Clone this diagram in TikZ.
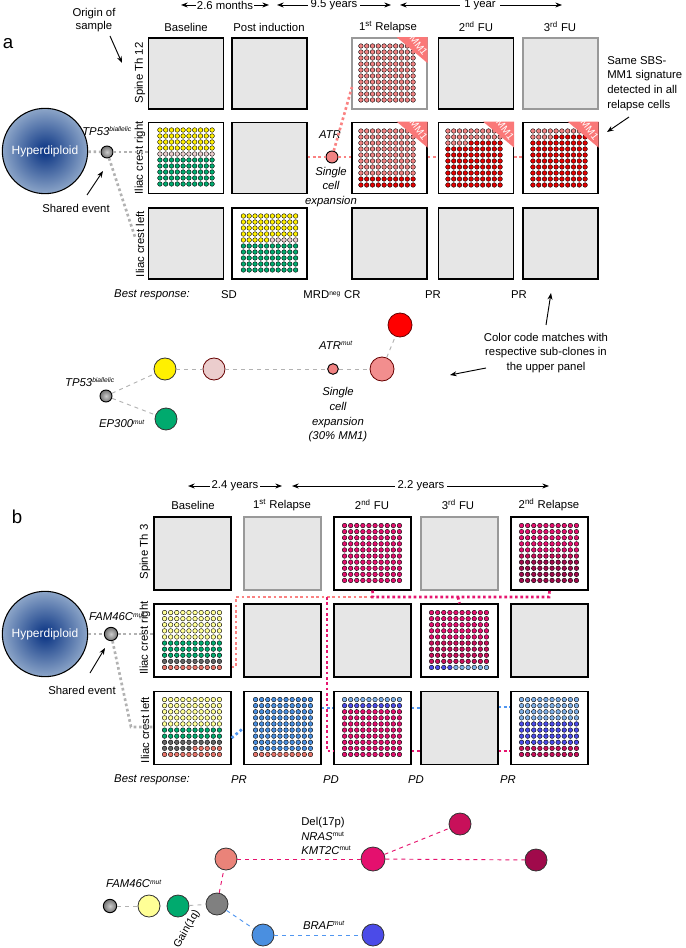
\documentclass[tikz,border=0pt]{standalone}
\usepackage{fontspec}
\setmainfont{Liberation Sans}
\usetikzlibrary{arrows.meta,calc}
\definecolor{boxg}{RGB}{230,230,230}
\definecolor{cY}{RGB}{255,240,0}
\definecolor{cP}{RGB}{235,205,205}
\definecolor{cG}{RGB}{0,170,110}
\definecolor{cS}{RGB}{240,130,130}
\definecolor{cR}{RGB}{228,0,0}
\definecolor{mmred}{RGB}{250,120,120}
\definecolor{cLY}{RGB}{255,255,150}
\definecolor{cDG}{RGB}{100,100,100}
\definecolor{cBS}{RGB}{232,117,106}
\definecolor{cBL}{RGB}{74,143,224}
\definecolor{cLB}{RGB}{127,176,232}
\definecolor{cV}{RGB}{75,75,232}
\definecolor{cM}{RGB}{228,16,110}
\definecolor{cMC}{RGB}{200,16,90}
\definecolor{cCR}{RGB}{160,10,75}
\definecolor{lnred}{RGB}{250,130,130}
\definecolor{lnmag}{RGB}{230,20,110}
\definecolor{lnblue}{RGB}{80,150,240}
\newcommand\dgrid[5]{%
  \foreach \ca/\n/\cb [count=\r] in {#5} {
    \foreach \k in {1,...,10} {
      \ifnum\k>\n\relax\def\cc{\cb}\else\def\cc{\ca}\fi
      \filldraw[fill=\cc,draw=black,line width=0.3pt] ({#1+(\k-5.5)*#3},{#2+(\r-5.5)*#4}) circle (2.3);
    }}}
\newcommand\mmone[1]{%
  \fill[mmred] (#1.north east) -- ++(-31,0) -- ++(31,26) -- cycle;
  \node[rotate=-52,text=white,font=\fontsize{7.5}{8}\selectfont,inner sep=0] at ($(#1.north east)+(-9,8)$) {MM1};}
\tikzset{
  every node/.style={font=\fontsize{8.5}{10}\selectfont},
  boxa/.style={draw,line width=1.1pt,fill=boxg,minimum width=56pt,minimum height=53.5pt,inner sep=0},
  boxb/.style={draw,line width=1.1pt,fill=boxg,minimum width=57.5pt,minimum height=54.5pt,inner sep=0},
  gb/.style={draw=gray!80},
  wf/.style={fill=white},
  hyper/.style={circle,draw,line width=0.8pt,minimum size=64pt,inner sep=0,shading=radial,inner color={rgb,255:red,8;green,50;blue,130},outer color={rgb,255:red,140;green,165;blue,200},text=white,font=\fontsize{9}{10}\selectfont},
  gdot/.style={line width=2pt,dotted,gray!60},
  rdot/.style={line width=2pt,dotted,lnred},
  mdot/.style={line width=2pt,dotted,lnmag},
  bdot/.style={line width=2pt,dotted,lnblue},
  arr/.style={-{Stealth[length=5pt]},line width=0.7pt},
  tl/.style={{Stealth[length=5pt]}-{Stealth[length=5pt]},line width=0.7pt},
  cl/.style={circle,draw=black!80,line width=0.6pt,inner sep=0,minimum size=16.5pt},
  sn/.style={circle,draw=black,line width=0.7pt,inner sep=0,minimum size=9pt,shading=radial,inner color=gray!40,outer color=gray!90!black},
  gdash/.style={dashed,gray!60,line width=0.7pt},
  mdash/.style={dashed,lnmag,line width=0.7pt},
  bdash/.style={dashed,lnblue,line width=0.7pt},
  it/.style={font=\fontsize{8.5}{10}\selectfont\itshape},
}
\begin{document}
\begin{tikzpicture}[x=0.75pt,y=-0.75pt]
\useasboundingbox (0,0) rectangle (685,948);
% ================= panel a =================
\node[font=\fontsize{14}{14}\selectfont] (la) at (8,44) {a};
\node[align=center] (orig) at (94,20) {Origin of\\sample};
\coordinate (origA) at (122,63);
\draw[arr] (110,36) -- (origA);
\coordinate (t1) at (181,5); \coordinate (t2) at (269,5);
\coordinate (t3) at (277,5); \coordinate (t4) at (391,5);
\coordinate (t5) at (400,5); \coordinate (t6) at (562,5);
\draw[tl] (t1) -- (t2); \node[fill=white,inner sep=1pt] (tla) at (225,5) {2.6 months};
\draw[tl] (t3) -- (t4); \node[fill=white,inner sep=2pt] (tlb) at (334,5) {9.5 years};
\draw[tl] (t5) -- (t6); \node[fill=white,inner sep=3pt] (tlc) at (480,5) {1 year};
\node (ha1) at (186,27) {Baseline};
\node (ha2) at (269,27) {Post induction};
\node (ha3) at (388,27) {1\textsuperscript{st} Relapse};
\node (ha4) at (476,27) {2\textsuperscript{nd} FU};
\node (ha5) at (560,27) {3\textsuperscript{rd} FU};
\node[rotate=90] (ra1) at (140,73) {Spine Th 12};
\node[rotate=90] (ra2) at (140,158) {Iliac crest right};
\node[rotate=90] (ra3) at (140,244) {Iliac crest left};
\node[boxa] (a11) at (186,73.5) {};
\node[boxa] (a12) at (269.5,73.5) {};
\node[boxa,wf,gb] (a13) at (389.5,73.5) {};
\node[boxa] (a14) at (476,73.5) {};
\node[boxa,gb] (a15) at (560.5,73.5) {};
\node[boxa,wf] (a21) at (186,158) {};
\node[boxa] (a22) at (269.5,158) {};
\node[boxa,wf] (a23) at (389.5,158) {};
\node[boxa,wf] (a24) at (476,158) {};
\node[boxa,wf] (a25) at (560.5,158) {};
\node[boxa] (a31) at (186,243.5) {};
\node[boxa,wf] (a32) at (269.5,243.5) {};
\node[boxa] (a33) at (389.5,243.5) {};
\node[boxa] (a34) at (476,243.5) {};
\node[boxa] (a35) at (560.5,243.5) {};
\dgrid{186}{157}{5.8}{6.0}{cY/10/cY,cY/10/cY,cY/10/cY,cY/10/cY,cP/10/cP,cG/10/cG,cG/10/cG,cG/10/cG,cG/10/cG,cG/10/cG}
\dgrid{269.5}{243}{5.8}{6.0}{cY/10/cY,cY/10/cY,cY/10/cY,cY/10/cY,cY/5/cP,cG/10/cG,cG/10/cG,cG/10/cG,cG/10/cG,cG/10/cG}
\dgrid{387}{73}{5.8}{6.0}{cS/10/cS,cS/10/cS,cS/10/cS,cS/10/cS,cS/10/cS,cS/10/cS,cS/10/cS,cS/10/cS,cS/10/cS,cS/10/cS}
\dgrid{387}{158}{5.8}{6.0}{cS/10/cS,cS/10/cS,cS/10/cS,cS/10/cS,cS/10/cS,cS/10/cS,cS/10/cS,cS/10/cS,cR/10/cR,cR/10/cR}
\dgrid{474}{158}{5.8}{6.0}{cS/10/cS,cS/10/cS,cS/4/cR,cR/10/cR,cR/10/cR,cR/10/cR,cR/10/cR,cR/10/cR,cR/10/cR,cR/10/cR}
\dgrid{559}{158}{5.8}{6.0}{cS/10/cS,cS/4/cR,cR/10/cR,cR/10/cR,cR/10/cR,cR/10/cR,cR/10/cR,cR/10/cR,cR/10/cR,cR/10/cR}
\mmone{a13}\mmone{a23}\mmone{a24}\mmone{a25}
\node[hyper] (hypa) at (45,151) {Hyperdiploid};
\node[sn] (tp53) at (107,152) {};
\node[it,anchor=west,inner sep=0] (tp53l) at (82,131) {TP53\textsuperscript{\fontsize{5}{5}\selectfont biallelic}};
\coordinate (ca1) at (135,237);
\draw[gdot] (hypa) -- (tp53);
\draw[gdot] (tp53) -- (a21.west|-tp53);
\draw[gdot] (tp53) -- (ca1);
\node (sha) at (76,208) {Shared event};
\draw[arr] (87,195) -- (103,171);
\node[circle,draw=black,line width=0.7pt,fill=cS,minimum size=9pt,inner sep=0] (atr) at (332,157) {};
\node[it] (atrl) at (330,135) {ATR};
\node[it,align=center] (sce) at (331,187) {Single\\[1pt]cell\\[1pt]expansion};
\draw[rdot] (a22.east|-atr) -- (atr);
\draw[rdot] (atr) -- (a23.west|-atr);
\draw[rdot] (atr) -- (352,87);
\draw[rdot] (a23.east|-atr) -- (a24.west|-atr);
\draw[rdot] (a24.east|-atr) -- (a25.west|-atr);
\node[align=left,anchor=north west,inner sep=0] (sbs) at (607,56) {Same SBS-\\[1pt]MM1 signature\\[1pt]detected in all\\[1pt]relapse cells};
\draw[arr] (629,117) -- (607,132);
\node[it] (bra) at (152,295) {Best response:};
\node (bra1) at (229,295) {SD};
\node (bra2) at (332,295) {MRD\textsuperscript{\fontsize{5}{5}\selectfont neg} CR};
\node (bra3) at (433,295) {PR};
\node (bra4) at (519,295) {PR};
\node[sn] (ta0) at (106,396) {};
\node[cl,fill=cY] (ta1) at (165,369) {};
\node[cl,fill=cP,draw=black!60!red] (ta2) at (214,369) {};
\node[circle,draw=black,line width=0.7pt,fill=cS,minimum size=8pt,inner sep=0] (ta3) at (333,369) {};
\node[cl,fill=cS!90!white,draw=black!60!red,minimum size=18pt] (ta4) at (382,369) {};
\node[cl,fill=red,draw=black!60!red,minimum size=18pt] (ta5) at (400,325) {};
\node[cl,fill=cG] (ta6) at (166,419) {};
\draw[gdash] (ta0) -- (ta1); \draw[gdash] (ta0) -- (ta6);
\draw[gdash] (ta1) -- (ta2); \draw[gdash] (ta2) -- (ta3);
\draw[gdash] (ta3) -- (ta4); \draw[gdash] (ta4) -- (ta5);
\node[it] (ta0l) at (90,382) {TP53\textsuperscript{\fontsize{5}{5}\selectfont biallelic}};
\node[it] (ta6l) at (122,424) {EP300\textsuperscript{\fontsize{5}{5}\selectfont mut}};
\node[it] (ta3l) at (336,345) {ATR\textsuperscript{\fontsize{5}{5}\selectfont mut}};
\node[it,align=center] (ta3s) at (338,415) {Single\\[1pt]cell\\[1pt]expansion\\[1pt](30\% MM1)};
\node[align=center] (ccm) at (546,353) {Color code matches with\\[1pt]respective sub-clones in\\[1pt]the upper panel};
\draw[arr] (546,325) -- (551,293);
\draw[arr] (486,368) -- (450,375);
% ================= panel b =================
\node[font=\fontsize{14}{14}\selectfont] (lb) at (17,517) {b};
\coordinate (u1) at (188,486); \coordinate (u2) at (282,486);
\coordinate (u3) at (292,486); \coordinate (u4) at (549,486);
\draw[tl] (u1) -- (u2); \node[fill=white,inner sep=1pt] (tld) at (235,486) {2.4 years};
\draw[tl] (u3) -- (u4); \node[fill=white,inner sep=2pt] (tle) at (421,486) {2.2 years};
\node (hb1) at (193,505) {Baseline};
\node (hb2) at (282,505) {1\textsuperscript{st} Relapse};
\node (hb3) at (372,505) {2\textsuperscript{nd} FU};
\node (hb4) at (458,505) {3\textsuperscript{rd} FU};
\node (hb5) at (549,505) {2\textsuperscript{nd} Relapse};
\node[rotate=90] (rb1) at (145,552) {Spine Th 3};
\node[rotate=90] (rb2) at (145,638) {Iliac crest right};
\node[rotate=90] (rb3) at (145,730) {Iliac crest left};
\node[boxb] (b11) at (192.5,553.5) {};
\node[boxb,gb] (b12) at (282.5,553.5) {};
\node[boxb,wf] (b13) at (372.5,553.5) {};
\node[boxb,gb] (b14) at (459.5,553.5) {};
\node[boxb,wf] (b15) at (549.5,553.5) {};
\node[boxb,wf] (b21) at (192.5,640.5) {};
\node[boxb] (b22) at (282.5,640.5) {};
\node[boxb] (b23) at (372.5,640.5) {};
\node[boxb,wf] (b24) at (459.5,640.5) {};
\node[boxb] (b25) at (549.5,640.5) {};
\node[boxb,wf] (b31) at (192.5,728) {};
\node[boxb,wf] (b32) at (282.5,728) {};
\node[boxb,wf] (b33) at (372.5,728) {};
\node[boxb] (b34) at (459.5,728) {};
\node[boxb,wf] (b35) at (549.5,728) {};
\dgrid{192}{640}{6.1}{6.1}{cLY/10/cLY,cLY/10/cLY,cLY/10/cLY,cLY/10/cLY,cLY/10/cLY,cG/10/cG,cG/10/cG,cG/10/cG,cDG/10/cDG,cBS/10/cBS}
\dgrid{192}{727}{6.1}{6.1}{cLY/10/cLY,cLY/10/cLY,cLY/10/cLY,cLY/10/cLY,cLY/10/cLY,cG/10/cG,cG/10/cG,cDG/10/cDG,cDG/5/cBS,cBS/10/cBS}
\dgrid{283}{727}{6.1}{6.1}{cBL/10/cBL,cBL/10/cBL,cBL/10/cBL,cBL/10/cBL,cBL/10/cBL,cBL/10/cBL,cBL/10/cBL,cBL/10/cBL,cBL/10/cBL,cBS/10/cBS}
\dgrid{372}{553}{6.1}{6.1}{cM/10/cM,cM/10/cM,cM/10/cM,cM/10/cM,cM/10/cM,cM/10/cM,cM/10/cM,cM/10/cM,cM/10/cM,cM/10/cM}
\dgrid{372}{727}{6.1}{6.1}{cLB/10/cLB,cV/10/cV,cM/10/cM,cM/10/cM,cM/10/cM,cM/10/cM,cM/10/cM,cM/10/cM,cM/10/cM,cM/10/cM}
\dgrid{459}{640}{6.1}{6.1}{cM/10/cM,cM/10/cM,cM/10/cM,cM/10/cM,cM/10/cM,cMC/10/cMC,cMC/10/cMC,cMC/10/cMC,cMC/10/cMC,cV/4/cLB}
\dgrid{549}{553}{6.1}{6.1}{cM/10/cM,cM/10/cM,cM/10/cM,cM/10/cM,cM/10/cM,cMC/10/cMC,cCR/10/cCR,cCR/10/cCR,cCR/10/cCR,cCR/10/cCR}
\dgrid{549}{727}{6.1}{6.1}{cLB/10/cLB,cLB/10/cLB,cLB/10/cLB,cLB/10/cLB,cV/10/cV,cV/10/cV,cV/10/cV,cV/10/cV,cMC/10/cMC,cMC/10/cMC}
\node[hyper] (hypb) at (45,634) {Hyperdiploid};
\node[sn,minimum size=10pt] (fam) at (111,634) {};
\node[it,inner sep=0] (faml) at (117,617) {FAM46C\textsuperscript{\fontsize{5}{5}\selectfont mut}};
\coordinate (cb1) at (131,727);
\draw[gdot] (hypb) -- (fam);
\draw[gdot] (fam) -- (b21.west|-fam);
\draw[gdot] (fam) -- (cb1) -- (b31.west|-cb1);
\node (shb) at (82,690) {Shared event};
\draw[arr] (90,673) -- (105,648);
\coordinate (j1) at (236,597); \coordinate (j2) at (371,597);
\coordinate (j3) at (549,597); \coordinate (j4) at (327,597);
\draw[rdot] (b21.east|-667,667) -- (236,667) -- (j1) -- (j2);
\draw[mdot] (j2) -- (j3) -- (b15.south);
\draw[mdot] (b13.south) -- (373,597);
\draw[mdot] (458,597) -- (b24.north);
\draw[mdot] (j4) -- (327,751) -- (334,751);
\draw[mdot] (b33.east|-0,751) -- (b34.west|-0,751);
\draw[mdot] (b34.east|-0,751) -- (b35.west|-0,751);
\draw[bdot] (b31.east|-0,738) -- (b32.west|-0,728);
\draw[bdot] (b32.east|-0,708) -- (b33.west|-0,708);
\draw[bdot] (b33.east|-0,708) -- (b34.west|-0,708);
\draw[bdot] (b34.east|-0,707) -- (b35.west|-0,707);
\node[it] (brb) at (152,780) {Best response:};
\node[it] (brb1) at (239,780) {PR};
\node[it] (brb2) at (331,780) {PD};
\node[it] (brb3) at (416,780) {PD};
\node[it] (brb4) at (508,780) {PR};
\node[sn,minimum size=10pt] (tb0) at (110,906) {};
\node[cl,fill=cLY] (tb1) at (149,906) {};
\node[cl,fill=cG] (tb2) at (178,906) {};
\node[cl,fill=gray] (tb3) at (217,904) {};
\node[cl,fill=cBS!90!white] (tb4) at (226,859) {};
\node[cl,fill=cM,minimum size=18pt] (tb5) at (373,859) {};
\node[cl,fill=cMC] (tb6) at (460,824) {};
\node[cl,fill=cCR] (tb7) at (536,860) {};
\node[cl,fill=cBL] (tb8) at (263,935) {};
\node[cl,fill=cV] (tb9) at (373,935) {};
\draw[gdash] (tb0) -- (tb1); \draw[gdash] (tb2) -- (tb3);
\draw[mdash] (tb3) -- (tb4); \draw[mdash] (tb4) -- (tb5);
\draw[mdash] (tb5) -- (tb6); \draw[mdash] (tb5) -- (tb7);
\draw[bdash] (tb3) -- (tb8); \draw[bdash] (tb8) -- (tb9);
\node[it] (tb0l) at (134,884) {FAM46C\textsuperscript{\fontsize{5}{5}\selectfont mut}};
\node[align=left,anchor=west,inner sep=0] (tbl5) at (301,836) {Del(17p)\\[1pt]\itshape NRAS\textsuperscript{\fontsize{5}{5}\selectfont\upshape mut}\\[1pt]\itshape KMT2C\textsuperscript{\fontsize{5}{5}\selectfont\upshape mut}};
\node[rotate=60,inner sep=0,font=\fontsize{8}{9}\selectfont] (tb3l) at (187,929) {Gain(1q)};
\node[it] (tb9l) at (324,925) {BRAF\textsuperscript{\fontsize{5}{5}\selectfont mut}};
\end{tikzpicture}
\end{document}
